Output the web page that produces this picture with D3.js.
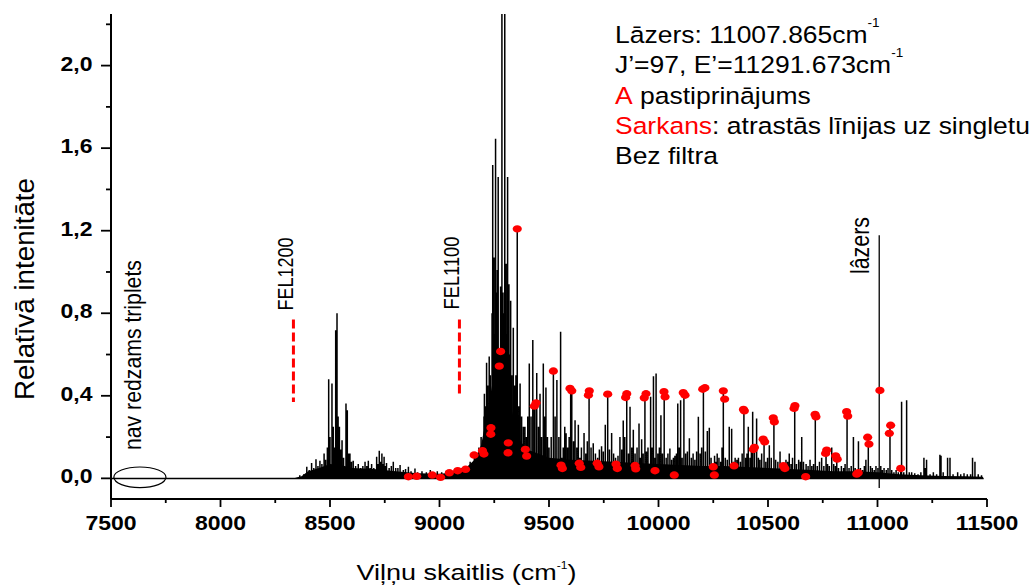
<!DOCTYPE html>
<html><head><meta charset="utf-8">
<script src="https://cdn.jsdelivr.net/npm/d3@7"></script>
<style>
html,body{margin:0;padding:0;background:#fff;}
svg{display:block;font-family:"Liberation Sans",Arial,Helvetica,sans-serif;}
</style></head><body>
<svg id="chart" width="1033" height="587"></svg>
<script>
// ---------------- DATA ----------------
const xDomain = [7500, 11500];
const yDomain = [-0.1, 2.25];
const xMajorTicks = [7500, 8000, 8500, 9000, 9500, 10000, 10500, 11000, 11500];
const xTickLabels = ["7500", "8000", "8500", "9000", "9500", "10000", "10500", "11000", "11500"];
const xMinorTicks = [7750, 8250, 8750, 9250, 9750, 10250, 10750, 11250];
const yMajorTicks = [0, 0.4, 0.8, 1.2, 1.6, 2.0];
const yTickLabels = ["0,0", "0,4", "0,8", "1,2", "1,6", "2,0"];
const yMinorTicks = [0.2, 0.6, 1.0, 1.4, 1.8, 2.2];

// dense base of the spectrum (upper edge of the solid black band)
const floorProfile = [
  [7500,0.003],[8340,0.003],[8370,0.01],[8400,0.035],[8450,0.05],[8500,0.07],[8550,0.065],
  [8600,0.05],[8700,0.045],[8800,0.035],[8900,0.025],[9000,0.022],[9080,0.03],[9120,0.05],
  [9160,0.09],[9190,0.16],[9215,0.3],[9240,0.45],[9265,0.55],[9290,0.55],[9315,0.42],
  [9340,0.28],[9370,0.18],[9400,0.14],[9450,0.12],[9500,0.1],[9600,0.09],[9700,0.085],
  [9800,0.08],[9900,0.075],[10000,0.07],[10100,0.065],[10200,0.06],[10300,0.06],[10400,0.055],
  [10500,0.05],[10600,0.045],[10700,0.04],[10800,0.035],[10900,0.035],[11000,0.03],[11050,0.025],
  [11100,0.02],[11200,0.015],[11300,0.012],[11400,0.01],[11480,0.008],[11485,0]
];

// emission lines [wavenumber cm-1, relative intensity]
const peaksLowBand = [
  [8362,0.015],[8380,0.02],[8394,0.056],[8405,0.04],[8416,0.075],[8426,0.05],[8436,0.092],[8445,0.06],
  [8454,0.085],[8463,0.07],[8473,0.12],[8480,0.09],[8488,0.15],[8494,0.48],[8500,0.2],[8509,0.46],
  [8515,0.25],[8520,0.15],[8526,0.718],[8532,0.80],[8537,0.3],[8543,0.25],[8549,0.14],[8555,0.185],
  [8562,0.1],[8573,0.363],[8579,0.33],[8585,0.12],[8591,0.12],[8598,0.08],[8606,0.085],[8617,0.06],
  [8629,0.07],[8640,0.05],[8650,0.06],[8660,0.08],[8668,0.06],[8675,0.085],[8683,0.05],[8690,0.07],
  [8700,0.05],[8713,0.105],[8719,0.07],[8725,0.134],[8731,0.08],[8737,0.12],[8742,0.07],[8747,0.105],
  [8752,0.06],[8758,0.075],[8770,0.05],[8780,0.06],[8789,0.08],[8800,0.05],[8810,0.05],[8820,0.065],
  [8835,0.04],[8845,0.045],[8858,0.056],[8870,0.035],[8888,0.048],[8900,0.03],[8920,0.035],[8940,0.03],
  [8958,0.04],[8975,0.03],[8990,0.035],[9010,0.03],[9030,0.035],[9048,0.04],[9065,0.035],[9086,0.045],
  [9100,0.05],[9121,0.06],[9140,0.08],[9159,0.12]
];
const peaksMainBand = [
  [9170,0.1],[9180,0.15],[9190,0.2],[9196,0.14],[9203,0.3],[9205,0.41],[9210,0.35],[9215,0.56],
  [9220,0.45],[9227,0.59],[9232,0.5],[9235,0.25],[9240,0.8],[9243,1.518],[9249,1.07],[9252,0.7],
  [9256,1.646],[9260,0.9],[9264,1.01],[9268,1.46],[9273,0.6],[9279,0.93],[9285,2.6],[9290,0.9],
  [9294,0.8],[9298,2.5],[9304,1.04],[9308,0.7],[9311,1.46],[9317,0.94],[9322,0.6],[9325,0.86],
  [9330,0.5],[9337,0.73],[9343,0.45],[9349,0.5],[9355,1.21],[9362,0.35],[9368,0.46],[9375,0.3],
  [9383,0.25],[9390,0.25],[9397,0.2],[9403,0.3],[9410,0.557],[9418,0.3],[9426,0.67],[9433,0.36],
  [9441,0.37],[9444,0.51],[9452,0.25],[9459,0.41],[9466,0.2],[9474,0.557],[9480,0.3],[9486,0.44],
  [9493,0.2],[9500,0.15]
];
const peaksMidBand = [
  [9510,0.2],[9520,0.52],[9528,0.3],[9536,0.476],[9545,0.2],[9553,0.71],[9558,0.1],[9565,0.15],
  [9572,0.25],[9578,0.218],[9585,0.15],[9592,0.2],[9599,0.436],[9604,0.43],[9612,0.18],[9619,0.282],
  [9627,0.15],[9634,0.26],[9641,0.1],[9648,0.15],[9660,0.22],[9668,0.12],[9675,0.18],[9683,0.424],
  [9692,0.15],[9702,0.17],[9712,0.12],[9722,0.1],[9730,0.14],[9740,0.155],[9748,0.13],[9757,0.26],
  [9768,0.408],[9776,0.14],[9786,0.22],[9795,0.12],[9804,0.1],[9815,0.11],[9824,0.2],[9832,0.14],
  [9839,0.28],[9846,0.2],[9855,0.41],[9863,0.12],[9870,0.347],[9878,0.15],[9885,0.235],[9893,0.12],
  [9902,0.15],[9911,0.266],[9917,0.1],[9923,0.19],[9930,0.12],[9938,0.41],[9945,0.13],[9952,0.15],
  [9964,0.395],[9970,0.15],[9977,0.495],[9984,0.1],[9989,0.508],[9997,0.12],[10004,0.15],[10011,0.306],
  [10018,0.12],[10026,0.42],[10035,0.1],[10043,0.12],[10052,0.145],[10060,0.09],[10068,0.1],[10075,0.11],
  [10082,0.12],[10088,0.363],[10095,0.15],[10101,0.379],[10108,0.1],[10116,0.415],[10124,0.12],[10132,0.13],
  [10141,0.194],[10150,0.1],[10158,0.12],[10166,0.09],[10174,0.13],[10182,0.298],[10190,0.12],[10197,0.15],
  [10205,0.44],[10214,0.13],[10223,0.23],[10232,0.245],[10240,0.1],[10247,0.06],[10256,0.11],[10262,0.08],
  [10268,0.12],[10276,0.1],[10284,0.08],[10290,0.15],[10296,0.424],[10305,0.1],[10314,0.09],[10323,0.25],
  [10334,0.24],[10342,0.08],[10350,0.1],[10358,0.09],[10365,0.1],[10374,0.08],[10382,0.12],[10390,0.334]
];
const peaksHighBand = [
  [10398,0.1],[10404,0.12],[10410,0.25],[10418,0.1],[10424,0.15],[10430,0.323],[10438,0.15],[10448,0.29],
  [10456,0.1],[10463,0.09],[10471,0.12],[10482,0.19],[10490,0.08],[10498,0.1],[10506,0.16],[10515,0.1],
  [10527,0.293],[10535,0.09],[10545,0.08],[10555,0.13],[10563,0.07],[10572,0.065],[10582,0.09],[10590,0.08],
  [10597,0.12],[10605,0.07],[10612,0.1],[10622,0.35],[10630,0.07],[10640,0.09],[10648,0.08],[10654,0.2],
  [10662,0.08],[10674,0.07],[10683,0.06],[10692,0.09],[10700,0.06],[10708,0.07],[10716,0.31],[10725,0.06],
  [10735,0.08],[10745,0.1],[10755,0.06],[10765,0.137],[10772,0.07],[10780,0.06],[10791,0.15],[10800,0.07],
  [10808,0.06],[10814,0.109],[10822,0.05],[10835,0.06],[10845,0.05],[10852,0.07],[10861,0.32],[10870,0.05],
  [10880,0.06],[10890,0.2],[10898,0.05],[10905,0.04],[10913,0.18],[10922,0.05],[10932,0.04],[10940,0.06],
  [10947,0.09],[10958,0.2],[10968,0.06],[10976,0.05],[10985,0.04],[10993,0.06],[11002,0.05],[11015,0.06],
  [11022,0.04],[11030,0.05],[11040,0.04],[11048,0.05],[11057,0.26],[11065,0.04],[11075,0.03],[11085,0.04],
  [11095,0.03],[11106,0.05],[11110,0.371],[11120,0.03],[11133,0.379],[11145,0.03],[11156,0.03],[11170,0.025],
  [11185,0.02],[11198,0.03],[11212,0.1],[11218,0.05],[11224,0.09],[11240,0.02],[11255,0.03],[11270,0.02],
  [11285,0.115],[11290,0.11],[11300,0.03],[11320,0.1],[11331,0.1],[11345,0.02],[11366,0.03],[11380,0.02],
  [11395,0.025],[11410,0.02],[11425,0.02],[11434,0.1],[11445,0.08],[11460,0.02],[11475,0.015]
];
// scattered laser line
const laserWavenumber = 11007.865;
const laserRange = [-0.047, 1.178];

// red markers: lines found on the singlet
const singletDots = [
  [8858,0.008],[8896,0.01],[8967,0.016],[9005,0.005],[9045,0.027],[9083,0.037],[9119,0.044],[9158,0.113],
  [9196,0.134],[9203,0.118],[9235,0.245],[9234,0.214],[9273,0.544],[9279,0.615],[9314,0.172],[9313,0.124],
  [9355,1.209],[9392,0.14],[9398,0.108],[9433,0.35],[9441,0.366],[9520,0.52],[9555,0.064],[9561,0.048],
  [9596,0.436],[9604,0.424],[9638,0.073],[9645,0.053],[9684,0.424],[9680,0.403],[9720,0.073],[9728,0.056],
  [9768,0.408],[9806,0.069],[9812,0.048],[9855,0.41],[9850,0.392],[9893,0.062],[9896,0.046],[9943,0.41],
  [9935,0.39],[9984,0.037],[10025,0.42],[10030,0.395],[10072,0.016],[10113,0.415],[10121,0.403],[10202,0.432],
  [10212,0.439],[10250,0.056],[10255,0.016],[10296,0.424],[10302,0.384],[10345,0.061],[10388,0.334],[10392,0.327],
  [10433,0.14],[10438,0.15],[10478,0.19],[10485,0.177],[10524,0.293],[10529,0.274],[10570,0.061],[10577,0.048],
  [10619,0.339],[10623,0.352],[10672,0.008],[10715,0.31],[10719,0.298],[10763,0.121],[10768,0.137],[10809,0.109],
  [10816,0.093],[10859,0.323],[10864,0.302],[10912,0.027],[10905,0.021],[10955,0.199],[10961,0.166],[11011,0.426],
  [11054,0.218],[11060,0.257],[11106,0.048]
];

// long-pass filter edges (1e7/1200 nm, 1e7/1100 nm)
const filterNames = ["FEL1200", "FEL1100"];
const filterEdges = [8333, 9091];
const filterTops = [0.77, 0.77];
const filterBottoms = [0.37, 0.395];

// "no triplet visible" region marker
const tripletMarker = {center: 7632, halfWidth: 119, level: 0.005, halfHeight: 0.05};

const legendLines = [
  [{t: "Lāzers: 11007.865cm", c: "#000"}, {t: "-1", c: "#000", sup: true}],
  [{t: "J’=97, E’=11291.673cm", c: "#000"}, {t: "-1", c: "#000", sup: true}],
  [{t: "A", c: "#ff0000"}, {t: " pastiprinājums", c: "#000"}],
  [{t: "Sarkans", c: "#ff0000"}, {t: ": atrastās līnijas uz singletu", c: "#000"}],
  [{t: "Bez filtra", c: "#000"}]
];
const yTitle = "Relatīvā intenitāte";
const xTitle = "Viļņu skaitlis (cm";

// ---------------- DRAW ----------------
const svg = d3.select("#chart");
const x = d3.scaleLinear().domain(xDomain).range([111, 987]);
const y = d3.scaleLinear().domain(yDomain).range([499, 14]);

svg.append("defs").append("clipPath").attr("id", "plotclip")
  .append("rect").attr("x", x(xDomain[0])).attr("y", y(yDomain[1]))
  .attr("width", x(xDomain[1]) - x(xDomain[0])).attr("height", y(yDomain[0]) - y(yDomain[1]));

const plot = svg.append("g").attr("clip-path", "url(#plotclip)");

// dense base band
plot.append("path")
  .datum(floorProfile)
  .attr("d", d3.area().x(d => x(d[0])).y0(y(-0.004)).y1(d => y(d[1])))
  .attr("fill", "#000");

// lines as sticks
const allPeaks = [].concat(peaksLowBand, peaksMainBand, peaksMidBand, peaksHighBand);
plot.append("path")
  .attr("d", allPeaks.map(p => `M${x(p[0])},${y(0)}V${y(p[1])}`).join(""))
  .attr("stroke", "#000").attr("stroke-width", 1.5).attr("fill", "none");

// laser line
plot.append("line")
  .attr("x1", x(laserWavenumber)).attr("x2", x(laserWavenumber))
  .attr("y1", y(laserRange[0])).attr("y2", y(laserRange[1]))
  .attr("stroke", "#000").attr("stroke-width", 1.3);

// red dots
plot.selectAll("ellipse.dot").data(singletDots).enter().append("ellipse")
  .attr("class", "dot")
  .attr("cx", d => x(d[0])).attr("cy", d => y(d[1]))
  .attr("rx", 4.6).attr("ry", 3.7).attr("fill", "#ff0000");

// filter markers
filterEdges.forEach((f, i) => {
  svg.append("line")
    .attr("x1", x(f)).attr("x2", x(f))
    .attr("y1", y(filterTops[i])).attr("y2", y(filterBottoms[i]))
    .attr("stroke", "#ff0000").attr("stroke-width", 3).attr("stroke-dasharray", "9,4");
});

// ellipse marker
svg.append("ellipse")
  .attr("cx", x(tripletMarker.center)).attr("cy", y(tripletMarker.level))
  .attr("rx", x(tripletMarker.center + tripletMarker.halfWidth) - x(tripletMarker.center))
  .attr("ry", y(0) - y(tripletMarker.halfHeight))
  .attr("fill", "none").attr("stroke", "#000").attr("stroke-width", 1.2);

// ---------------- AXES ----------------
const axisColor = "#000";
const xAxisG = svg.append("g").attr("transform", `translate(0,${y(yDomain[0])})`);
xAxisG.append("line").attr("x1", x(xDomain[0])).attr("x2", x(xDomain[1])).attr("y1", 0).attr("y2", 0)
  .attr("stroke", axisColor).attr("stroke-width", 2);
xAxisG.selectAll("line.maj").data(xMajorTicks).enter().append("line")
  .attr("x1", d => x(d)).attr("x2", d => x(d)).attr("y1", 0).attr("y2", 8)
  .attr("stroke", axisColor).attr("stroke-width", 1.8);
xAxisG.selectAll("line.min").data(xMinorTicks).enter().append("line")
  .attr("x1", d => x(d)).attr("x2", d => x(d)).attr("y1", 0).attr("y2", 4)
  .attr("stroke", axisColor).attr("stroke-width", 1.8);

const yAxisG = svg.append("g").attr("transform", `translate(${x(xDomain[0])},0)`);
yAxisG.append("line").attr("x1", 0).attr("x2", 0).attr("y1", y(yDomain[0])).attr("y2", y(yDomain[1]))
  .attr("stroke", axisColor).attr("stroke-width", 2);
yAxisG.selectAll("line.maj").data(yMajorTicks).enter().append("line")
  .attr("x1", -10).attr("x2", 0).attr("y1", d => y(d)).attr("y2", d => y(d))
  .attr("stroke", axisColor).attr("stroke-width", 1.8);
yAxisG.selectAll("line.min").data(yMinorTicks).enter().append("line")
  .attr("x1", -5).attr("x2", 0).attr("y1", d => y(d)).attr("y2", d => y(d))
  .attr("stroke", axisColor).attr("stroke-width", 1.8);

const tickStretch = 1.18;
xMajorTicks.forEach((t, i) => {
  svg.append("text")
    .attr("transform", `translate(${x(t)},530) scale(${tickStretch},1)`)
    .attr("text-anchor", "middle").attr("font-weight", "bold").attr("font-size", 19.5)
    .attr("fill", "#000").text(xTickLabels[i]);
});
yMajorTicks.forEach((t, i) => {
  svg.append("text")
    .attr("transform", `translate(92.5,${y(t) + 5}) scale(${tickStretch},1)`)
    .attr("text-anchor", "end").attr("font-weight", "bold").attr("font-size", 19.5)
    .attr("fill", "#000").text(yTickLabels[i]);
});

// helper: stretch a text along its own direction to a target length
function stretchTo(sel, target) {
  const w = sel.node().getBBox().width;
  return target / w;
}

// x title
{
  const t = svg.append("text").attr("font-size", 22.5).attr("fill", "#000");
  t.append("tspan").text(xTitle);
  t.append("tspan").attr("font-size", 10).attr("dy", -11).text("-1");
  t.append("tspan").attr("dy", 11).text(")");
  const k = stretchTo(t, 220);
  t.attr("transform", `translate(356.5,580) scale(${k},1)`);
}

// y title
{
  const t = svg.append("text").attr("font-size", 24).attr("fill", "#000")
    .attr("text-anchor", "middle").text(yTitle);
  const k = stretchTo(t, 222);
  t.attr("transform", `translate(33.5,289) rotate(-90) scale(${k},1.12)`);
}

// rotated annotations
function rotatedLabel(txt, bx, by, size, len, across) {
  const t = svg.append("text").attr("font-size", size).attr("fill", "#000").text(txt);
  const k = stretchTo(t, len);
  t.attr("transform", `translate(${bx},${by}) rotate(-90) scale(${k},${across})`);
}
rotatedLabel("nav redzams triplets", 141, 450, 20, 190, 1.15);
rotatedLabel(filterNames[0], 292.5, 310.5, 18, 73, 1.22);
rotatedLabel(filterNames[1], 459, 309.5, 18, 73, 1.22);
rotatedLabel("lâzers", 869, 274, 21, 57, 1.22);

// legend
{
  const lg = svg.append("g");
  const baselines = [43.3, 73.5, 104, 134.2, 164.4];
  const texts = legendLines.map((parts, i) => {
    const t = lg.append("text").attr("x", 0).attr("y", baselines[i]).attr("font-size", 24.5);
    parts.forEach(p => {
      if (p.sup) {
        t.append("tspan").attr("fill", p.c).attr("font-size", 12.5).attr("dy", -16.5).text(p.t);
      } else {
        t.append("tspan").attr("fill", p.c).text(p.t);
      }
    });
    return t;
  });
  const k = stretchTo(texts[3], 415);
  lg.attr("transform", `translate(615,0) scale(${k},1)`);
}
</script>
</body></html>
